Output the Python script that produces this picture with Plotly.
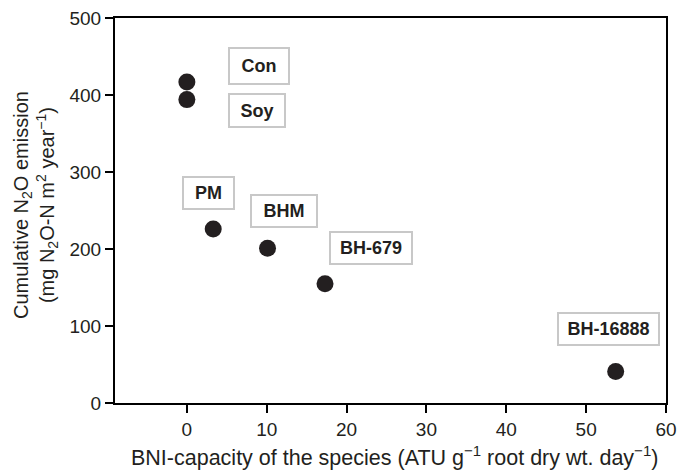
import plotly.graph_objects as go

species = ["Con", "Soy", "PM", "BHM", "BH-679", "BH-16888"]
bni_capacity = [0.0, 0.0, 3.3, 10.1, 17.3, 53.7]
n2o_emission = [417, 394, 226, 201, 155, 41]

# label box placement/size in pixels (box centre relative to point)
label_dx = [72, 70, -5, 16, 46, -7]
label_dy = [16, -11, 36, 37, 36, 42]
box_w = [62, 58, 53, 68, 84, 103]
box_h = [38, 35, 34, 34, 34, 34]

ink = "#231f20"
font_family = "Liberation Sans, Arial, Helvetica, sans-serif"
fig = go.Figure()
fig.add_trace(go.Scatter(
    x=bni_capacity, y=n2o_emission, mode="markers",
    marker=dict(size=17, color=ink), showlegend=False, hoverinfo="skip"))

for s, x, y, dx, dy, w, h in zip(species, bni_capacity, n2o_emission,
                                 label_dx, label_dy, box_w, box_h):
    fig.add_annotation(x=x, y=y, xref="x", yref="y", text="<b>%s</b>" % s,
                       showarrow=False, xshift=dx, yshift=dy,
                       width=w - 6, height=h - 6, align="center", valign="middle",
                       font=dict(family=font_family, size=18, color=ink),
                       bordercolor="#c8c8c8", borderwidth=2, borderpad=1,
                       bgcolor="white")

fig.add_annotation(
    text="Cumulative N<sub>2</sub>O emission<br>(mg N<sub>2</sub>O-N m<sup>2</sup> year<sup>−1</sup>)",
    xref="paper", yref="paper", x=(35 - 115) / 551, y=(403 - 205) / 385,
    xanchor="center", yanchor="middle", textangle=-90, showarrow=False,
    font=dict(family=font_family, size=20, color=ink))

fig.add_annotation(
    text="BNI-capacity of the species (ATU g<sup>−1</sup> root dry wt. day<sup>−1</sup>)",
    xref="paper", yref="paper", x=(394 - 115) / 551, y=(403 - 456) / 385,
    xanchor="center", yanchor="middle", showarrow=False,
    font=dict(family=font_family, size=21.5, color=ink))

axis_common = dict(showline=True, linecolor="black", linewidth=2, mirror=True,
                   ticks="outside", ticklen=8, tickwidth=2, tickcolor="black",
                   showgrid=False, zeroline=False, automargin=False,
                   tickfont=dict(family=font_family, size=19, color=ink))

fig.update_layout(
    width=679, height=471,
    margin=dict(l=115, r=13, t=18, b=68, autoexpand=False),
    plot_bgcolor="white", paper_bgcolor="white",
    xaxis=dict(range=[-9, 60], tickvals=[0, 10, 20, 30, 40, 50, 60], **axis_common),
    yaxis=dict(range=[0, 500], tickvals=[0, 100, 200, 300, 400, 500], **axis_common),
)

fig.write_html("out.html", config={"displayModeBar": False},
               post_script="document.body.style.margin='0';")
